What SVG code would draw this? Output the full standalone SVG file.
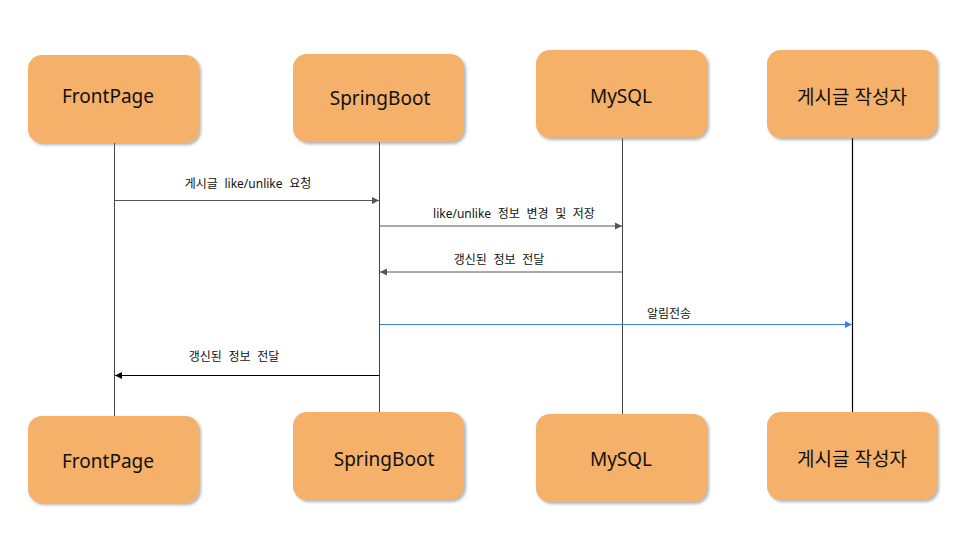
<svg xmlns="http://www.w3.org/2000/svg" width="960" height="540" viewBox="0 0 960 540">
<style>
.box{fill:#F5B06B;filter:url(#sh)}
.t{font-family:"Noto Sans","Noto Sans CJK KR",sans-serif;font-size:19px;fill:#111;text-anchor:middle}
.l{font-family:"Noto Sans","Noto Sans CJK KR",sans-serif;font-size:12px;fill:#111;text-anchor:middle;word-spacing:3.5px}
.life{stroke:#444;stroke-width:1;fill:none}
.g{stroke:#555;stroke-width:1;fill:none}
</style>
<defs>
<filter id="sh" x="-10%" y="-10%" width="130%" height="130%">
<feDropShadow dx="2" dy="2" stdDeviation="1.5" flood-color="#666" flood-opacity="0.5"/>
</filter>
<marker id="ag" markerWidth="8" markerHeight="8" refX="7" refY="4" orient="auto" markerUnits="userSpaceOnUse"><path d="M0,0.5 L7,4 L0,7.5 Z" fill="#555"/></marker>
<marker id="ak" markerWidth="8" markerHeight="8" refX="7" refY="4" orient="auto" markerUnits="userSpaceOnUse"><path d="M0,0.5 L7,4 L0,7.5 Z" fill="#000"/></marker>
<marker id="ab" markerWidth="8" markerHeight="8" refX="7" refY="4" orient="auto" markerUnits="userSpaceOnUse"><path d="M0,0.5 L7,4 L0,7.5 Z" fill="#3A7FF0"/></marker>
</defs>
<rect width="960" height="540" fill="#fff"/>
<g id="lifelines">
<line class="life" x1="114.5" y1="143" x2="114.5" y2="416"/>
<line class="life" x1="379.5" y1="142" x2="379.5" y2="412"/>
<line class="life" x1="622.5" y1="138" x2="622.5" y2="414"/>
<line x1="852.5" y1="138" x2="852.5" y2="412" stroke="#000" stroke-width="1.2"/>
</g>
<g id="connectors">
<line class="g" x1="115" y1="200.5" x2="379" y2="200.5" marker-end="url(#ag)"/>
<text class="l" x="248" y="188">게시글 like/unlike 요청</text>
<line class="g" x1="380" y1="226" x2="622" y2="226" marker-end="url(#ag)"/>
<text class="l" x="514" y="218">like/unlike 정보 변경 및 저장</text>
<line class="g" x1="622" y1="272" x2="380" y2="272" marker-end="url(#ag)"/>
<text class="l" x="499" y="264">갱신된 정보 전달</text>
<line x1="380" y1="324.5" x2="852" y2="324.5" stroke="#3A7FF0" stroke-width="1.2" marker-end="url(#ab)"/>
<text class="l" x="669" y="318">알림전송</text>
<line x1="379" y1="375.5" x2="115" y2="375.5" stroke="#000" stroke-width="1" marker-end="url(#ak)"/>
<text class="l" x="234" y="361">갱신된 정보 전달</text>
</g>
<g id="frontpage-top"><rect class="box" x="28" y="55" width="171" height="88" rx="14"/><text class="t" x="108" y="103">FrontPage</text></g>
<g id="springboot-top"><rect class="box" x="293" y="54" width="171" height="88" rx="14"/><text class="t" x="380" y="105">SpringBoot</text></g>
<g id="mysql-top"><rect class="box" x="536" y="50" width="171" height="88" rx="14"/><text class="t" x="621" y="103">MySQL</text></g>
<g id="author-top"><rect class="box" x="767" y="50" width="170" height="88" rx="14"/><text class="t" x="852" y="104">게시글 작성자</text></g>
<g id="frontpage-bottom"><rect class="box" x="28" y="416" width="171" height="87" rx="14"/><text class="t" x="108" y="468">FrontPage</text></g>
<g id="springboot-bottom"><rect class="box" x="293" y="412" width="171" height="88" rx="14"/><text class="t" x="384" y="466">SpringBoot</text></g>
<g id="mysql-bottom"><rect class="box" x="536" y="414" width="171" height="88" rx="14"/><text class="t" x="621" y="466">MySQL</text></g>
<g id="author-bottom"><rect class="box" x="767" y="412" width="170" height="88" rx="14"/><text class="t" x="852" y="466">게시글 작성자</text></g>
</svg>
